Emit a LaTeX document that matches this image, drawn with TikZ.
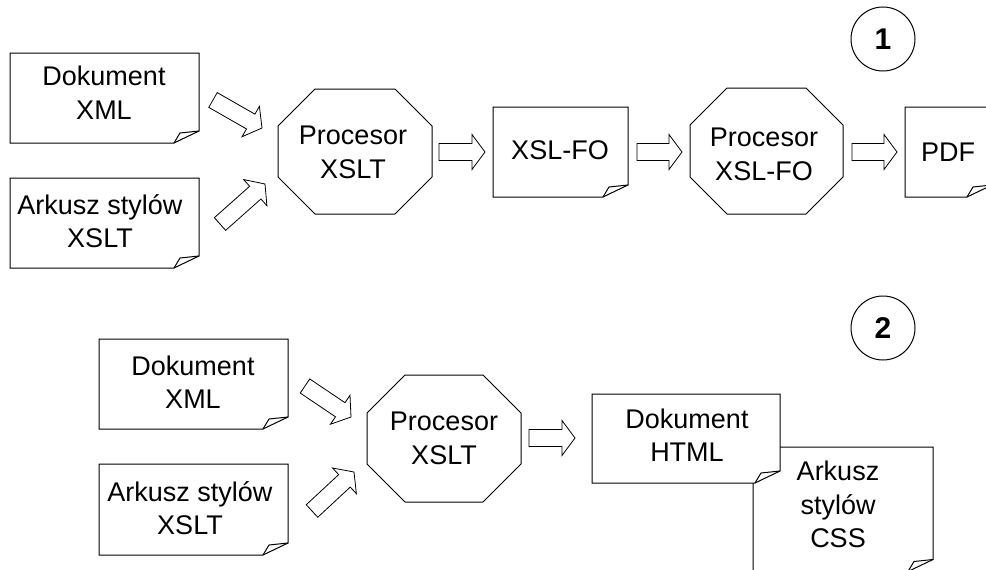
\documentclass[tikz,border=0pt]{standalone}
\usepackage{fontspec}
\setmainfont{Liberation Sans}
\usetikzlibrary{calc}
\tikzset{
  shapeline/.style={draw=black, line width=1pt, line join=miter},
  docfill/.style={shapeline, fill=white},
  barrow/.style={draw=black, line width=0.8pt, fill=white, line join=miter},
  lbl/.style={align=center, inner sep=0pt, font=\fontsize{27}{33.5}\selectfont},
  numcirc/.style={circle, draw=black, line width=1pt, minimum size=64pt, inner sep=0pt, font=\fontsize{30}{32}\selectfont\bfseries}
}
% document shape with folded corner
\newcommand\docshape[5][shapeline]{%
  \draw[#1] (#2,#3) -- (#4,#3) -- (#4,#5-12) -- (#4-25,#5) -- (#2,#5) -- cycle;
  \draw[shapeline] (#4-25,#5) -- (#4-19,#5-10) -- (#4,#5-12);}
% octagon given outer box and corner cut
\newcommand\octshape[6]{%
  \draw[shapeline] (#1+#5,#2) -- (#3-#5,#2) -- (#3,#2+#6) -- (#3,#4-#6) -- (#3-#5,#4) -- (#1+#5,#4) -- (#1,#4-#6) -- (#1,#2+#6) -- cycle;}
% block arrow from coordinate #1 to coordinate #2
\newcommand\blockarrow[2]{%
  \coordinate (ba-m) at ($(#2)!13pt!(#1)$);
  \draw[barrow] ($(#1)!8.5pt!90:(#2)$) -- ($(ba-m)!8.5pt!-90:(#1)$) -- ($(ba-m)!17.5pt!-90:(#1)$) -- (#2) -- ($(ba-m)!17.5pt!90:(#1)$) -- ($(ba-m)!8.5pt!90:(#1)$) -- ($(#1)!8.5pt!-90:(#2)$) -- cycle;}
\begin{document}
\begin{tikzpicture}[x=1pt,y=-1pt]
\clip (0,0) rectangle (986,570);
\fill[white] (0,0) rectangle (986,570);

% ---------- part 1 ----------
\docshape{10}{53}{199}{143}
\node[lbl] (t1doc) at (104,92.5) {Dokument\\XML};
\docshape{10}{178}{199}{268}
\node[lbl] (t1xsl) at (100,221) {Arkusz stylów\\XSLT};
\octshape{278}{89}{432}{214}{37}{37}
\node[lbl] (t1proc) at (353,152.5) {Procesor\\XSLT};
\docshape{493}{107}{628}{197}
\node[lbl] (t1fo) at (560,150) {XSL-FO};
\octshape{690}{88}{843}{214}{37}{37}
\node[lbl] (t1fop) at (764,154.5) {Procesor\\XSL-FO};
\docshape{905}{107}{992}{197}
\node[lbl] (t1pdf) at (948,152) {PDF};
\node[numcirc] (c1) at (883,39) {1};

\coordinate (a1s) at (213,100); \coordinate (a1e) at (262,128);
\coordinate (a2s) at (220,224); \coordinate (a2e) at (265,184);
\coordinate (a3s) at (439,152); \coordinate (a3e) at (485,152);
\coordinate (a4s) at (637,152); \coordinate (a4e) at (682,152);
\coordinate (a5s) at (852,152); \coordinate (a5e) at (897,152);
\blockarrow{a1s}{a1e}
\blockarrow{a2s}{a2e}
\blockarrow{a3s}{a3e}
\blockarrow{a4s}{a4e}
\blockarrow{a5s}{a5e}

% ---------- part 2 ----------
\docshape{99}{339}{288}{429}
\node[lbl] (t2doc) at (193,382) {Dokument\\XML};
\docshape{99}{464}{288}{555}
\node[lbl] (t2xsl) at (190,508) {Arkusz stylów\\XSLT};
\octshape{367}{375}{521}{502}{38}{38}
\node[lbl] (t2proc) at (444,438.5) {Procesor\\XSLT};
\docshape{753}{447}{933}{571.5}
\node[lbl] (t2css) at (838,504.5) {Arkusz\\stylów\\CSS};
\docshape[docfill]{592}{394}{780}{483}
\node[lbl] (t2html) at (687,435) {Dokument\\HTML};
\node[numcirc] (c2) at (883,328) {2};

\coordinate (b1s) at (305,386); \coordinate (b1e) at (351,417);
\coordinate (b2s) at (312,511); \coordinate (b2e) at (354,472);
\coordinate (b3s) at (529,438); \coordinate (b3e) at (575,438);
\blockarrow{b1s}{b1e}
\blockarrow{b2s}{b2e}
\blockarrow{b3s}{b3e}
\end{tikzpicture}
\end{document}
